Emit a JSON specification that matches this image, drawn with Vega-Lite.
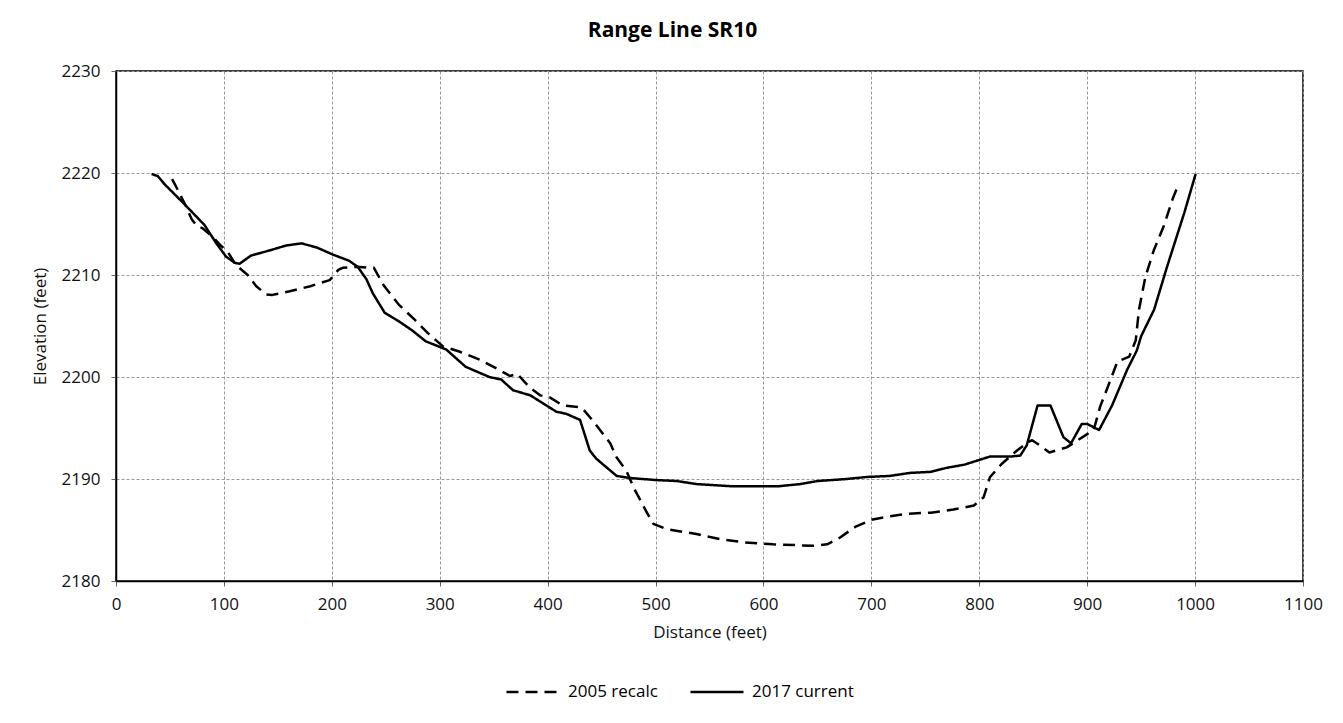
{
  "$schema": "https://vega.github.io/schema/vega-lite/v6.json",
  "width": 1187,
  "height": 510,
  "autosize": {"type": "none"},
  "padding": {"left": 116, "top": 71, "right": 40, "bottom": 142},
  "background": "white",
  "title": {"text": "Range Line SR10", "font": "Open Sans", "fontSize": 21, "fontWeight": "bold", "color": "#000", "offset": 21, "dx": -37, "anchor": "middle"},
  "datasets": {
    "pts": [
      {"series": "2005 recalc", "distance": 52, "elevation": 2219.4},
      {"series": "2005 recalc", "distance": 58, "elevation": 2218.2},
      {"series": "2005 recalc", "distance": 65, "elevation": 2216.7},
      {"series": "2005 recalc", "distance": 70, "elevation": 2215.5},
      {"series": "2005 recalc", "distance": 75, "elevation": 2214.8},
      {"series": "2005 recalc", "distance": 80, "elevation": 2214.6},
      {"series": "2005 recalc", "distance": 90, "elevation": 2213.7},
      {"series": "2005 recalc", "distance": 96, "elevation": 2213.0},
      {"series": "2005 recalc", "distance": 104, "elevation": 2212.2},
      {"series": "2005 recalc", "distance": 111, "elevation": 2211.0},
      {"series": "2005 recalc", "distance": 122, "elevation": 2210.0},
      {"series": "2005 recalc", "distance": 130, "elevation": 2208.9},
      {"series": "2005 recalc", "distance": 139, "elevation": 2208.1},
      {"series": "2005 recalc", "distance": 145, "elevation": 2208.05},
      {"series": "2005 recalc", "distance": 161, "elevation": 2208.4},
      {"series": "2005 recalc", "distance": 180, "elevation": 2208.9},
      {"series": "2005 recalc", "distance": 198, "elevation": 2209.5},
      {"series": "2005 recalc", "distance": 206, "elevation": 2210.5},
      {"series": "2005 recalc", "distance": 210, "elevation": 2210.7},
      {"series": "2005 recalc", "distance": 223, "elevation": 2210.8},
      {"series": "2005 recalc", "distance": 239, "elevation": 2210.7},
      {"series": "2005 recalc", "distance": 248, "elevation": 2209.0},
      {"series": "2005 recalc", "distance": 262, "elevation": 2207.1},
      {"series": "2005 recalc", "distance": 277, "elevation": 2205.6},
      {"series": "2005 recalc", "distance": 289, "elevation": 2204.3},
      {"series": "2005 recalc", "distance": 303, "elevation": 2203.0},
      {"series": "2005 recalc", "distance": 318, "elevation": 2202.5},
      {"series": "2005 recalc", "distance": 337, "elevation": 2201.7},
      {"series": "2005 recalc", "distance": 355, "elevation": 2200.7},
      {"series": "2005 recalc", "distance": 365, "elevation": 2200.1},
      {"series": "2005 recalc", "distance": 372, "elevation": 2200.3},
      {"series": "2005 recalc", "distance": 383, "elevation": 2199.0},
      {"series": "2005 recalc", "distance": 393, "elevation": 2198.2},
      {"series": "2005 recalc", "distance": 402, "elevation": 2198.0},
      {"series": "2005 recalc", "distance": 414, "elevation": 2197.2},
      {"series": "2005 recalc", "distance": 430, "elevation": 2197.05},
      {"series": "2005 recalc", "distance": 434, "elevation": 2196.7},
      {"series": "2005 recalc", "distance": 442, "elevation": 2195.7},
      {"series": "2005 recalc", "distance": 458, "elevation": 2193.5},
      {"series": "2005 recalc", "distance": 464, "elevation": 2192.1},
      {"series": "2005 recalc", "distance": 473, "elevation": 2190.8},
      {"series": "2005 recalc", "distance": 480, "elevation": 2189.1},
      {"series": "2005 recalc", "distance": 492, "elevation": 2186.7},
      {"series": "2005 recalc", "distance": 498, "elevation": 2185.6},
      {"series": "2005 recalc", "distance": 510, "elevation": 2185.1},
      {"series": "2005 recalc", "distance": 538, "elevation": 2184.6},
      {"series": "2005 recalc", "distance": 560, "elevation": 2184.1},
      {"series": "2005 recalc", "distance": 581, "elevation": 2183.8},
      {"series": "2005 recalc", "distance": 609, "elevation": 2183.6},
      {"series": "2005 recalc", "distance": 646, "elevation": 2183.45},
      {"series": "2005 recalc", "distance": 659, "elevation": 2183.6},
      {"series": "2005 recalc", "distance": 670, "elevation": 2184.2},
      {"series": "2005 recalc", "distance": 685, "elevation": 2185.3},
      {"series": "2005 recalc", "distance": 700, "elevation": 2186.0},
      {"series": "2005 recalc", "distance": 715, "elevation": 2186.3},
      {"series": "2005 recalc", "distance": 734, "elevation": 2186.6},
      {"series": "2005 recalc", "distance": 755, "elevation": 2186.7},
      {"series": "2005 recalc", "distance": 776, "elevation": 2187.0},
      {"series": "2005 recalc", "distance": 795, "elevation": 2187.4},
      {"series": "2005 recalc", "distance": 804, "elevation": 2188.2},
      {"series": "2005 recalc", "distance": 810, "elevation": 2190.2},
      {"series": "2005 recalc", "distance": 821, "elevation": 2191.5},
      {"series": "2005 recalc", "distance": 835, "elevation": 2192.8},
      {"series": "2005 recalc", "distance": 845, "elevation": 2193.6},
      {"series": "2005 recalc", "distance": 849, "elevation": 2193.8},
      {"series": "2005 recalc", "distance": 856, "elevation": 2193.3},
      {"series": "2005 recalc", "distance": 865, "elevation": 2192.6},
      {"series": "2005 recalc", "distance": 881, "elevation": 2193.1},
      {"series": "2005 recalc", "distance": 900, "elevation": 2194.4},
      {"series": "2005 recalc", "distance": 906, "elevation": 2194.8},
      {"series": "2005 recalc", "distance": 912, "elevation": 2197.1},
      {"series": "2005 recalc", "distance": 919, "elevation": 2199.0},
      {"series": "2005 recalc", "distance": 928, "elevation": 2201.5},
      {"series": "2005 recalc", "distance": 939, "elevation": 2202.0},
      {"series": "2005 recalc", "distance": 945, "elevation": 2203.6},
      {"series": "2005 recalc", "distance": 948, "elevation": 2206.6},
      {"series": "2005 recalc", "distance": 954, "elevation": 2209.85},
      {"series": "2005 recalc", "distance": 962, "elevation": 2212.5},
      {"series": "2005 recalc", "distance": 971, "elevation": 2214.8},
      {"series": "2005 recalc", "distance": 979, "elevation": 2217.4},
      {"series": "2005 recalc", "distance": 985, "elevation": 2219.0},
      {"series": "2017 current", "distance": 33, "elevation": 2219.9},
      {"series": "2017 current", "distance": 38.7, "elevation": 2219.7},
      {"series": "2017 current", "distance": 45, "elevation": 2218.9},
      {"series": "2017 current", "distance": 62, "elevation": 2217.1},
      {"series": "2017 current", "distance": 82, "elevation": 2214.9},
      {"series": "2017 current", "distance": 93, "elevation": 2213.1},
      {"series": "2017 current", "distance": 102, "elevation": 2211.8},
      {"series": "2017 current", "distance": 110, "elevation": 2211.2},
      {"series": "2017 current", "distance": 114.5, "elevation": 2211.1},
      {"series": "2017 current", "distance": 125, "elevation": 2211.9},
      {"series": "2017 current", "distance": 142, "elevation": 2212.4},
      {"series": "2017 current", "distance": 158, "elevation": 2212.9},
      {"series": "2017 current", "distance": 172, "elevation": 2213.1},
      {"series": "2017 current", "distance": 186, "elevation": 2212.7},
      {"series": "2017 current", "distance": 201, "elevation": 2212.0},
      {"series": "2017 current", "distance": 216, "elevation": 2211.4},
      {"series": "2017 current", "distance": 224, "elevation": 2210.8},
      {"series": "2017 current", "distance": 232, "elevation": 2209.6},
      {"series": "2017 current", "distance": 238, "elevation": 2208.2},
      {"series": "2017 current", "distance": 249, "elevation": 2206.3},
      {"series": "2017 current", "distance": 263, "elevation": 2205.4},
      {"series": "2017 current", "distance": 274, "elevation": 2204.6},
      {"series": "2017 current", "distance": 287, "elevation": 2203.5},
      {"series": "2017 current", "distance": 306, "elevation": 2202.7},
      {"series": "2017 current", "distance": 324, "elevation": 2201.0},
      {"series": "2017 current", "distance": 346, "elevation": 2200.0},
      {"series": "2017 current", "distance": 357, "elevation": 2199.75},
      {"series": "2017 current", "distance": 368, "elevation": 2198.7},
      {"series": "2017 current", "distance": 384, "elevation": 2198.2},
      {"series": "2017 current", "distance": 396, "elevation": 2197.4},
      {"series": "2017 current", "distance": 408, "elevation": 2196.6},
      {"series": "2017 current", "distance": 417, "elevation": 2196.4},
      {"series": "2017 current", "distance": 430, "elevation": 2195.8},
      {"series": "2017 current", "distance": 433, "elevation": 2194.8},
      {"series": "2017 current", "distance": 439, "elevation": 2192.8},
      {"series": "2017 current", "distance": 445, "elevation": 2192.0},
      {"series": "2017 current", "distance": 455, "elevation": 2191.1},
      {"series": "2017 current", "distance": 464, "elevation": 2190.3},
      {"series": "2017 current", "distance": 476, "elevation": 2190.1},
      {"series": "2017 current", "distance": 500, "elevation": 2189.9},
      {"series": "2017 current", "distance": 520, "elevation": 2189.8},
      {"series": "2017 current", "distance": 538, "elevation": 2189.5},
      {"series": "2017 current", "distance": 569, "elevation": 2189.3},
      {"series": "2017 current", "distance": 615, "elevation": 2189.3},
      {"series": "2017 current", "distance": 634, "elevation": 2189.5},
      {"series": "2017 current", "distance": 650, "elevation": 2189.8},
      {"series": "2017 current", "distance": 677, "elevation": 2190.0},
      {"series": "2017 current", "distance": 696, "elevation": 2190.2},
      {"series": "2017 current", "distance": 717, "elevation": 2190.3},
      {"series": "2017 current", "distance": 736, "elevation": 2190.6},
      {"series": "2017 current", "distance": 755, "elevation": 2190.7},
      {"series": "2017 current", "distance": 770, "elevation": 2191.1},
      {"series": "2017 current", "distance": 786, "elevation": 2191.4},
      {"series": "2017 current", "distance": 801, "elevation": 2191.9},
      {"series": "2017 current", "distance": 810, "elevation": 2192.2},
      {"series": "2017 current", "distance": 829, "elevation": 2192.2},
      {"series": "2017 current", "distance": 838, "elevation": 2192.3},
      {"series": "2017 current", "distance": 844, "elevation": 2193.3},
      {"series": "2017 current", "distance": 854, "elevation": 2197.2},
      {"series": "2017 current", "distance": 866, "elevation": 2197.2},
      {"series": "2017 current", "distance": 878, "elevation": 2194.1},
      {"series": "2017 current", "distance": 885, "elevation": 2193.5},
      {"series": "2017 current", "distance": 895, "elevation": 2195.4},
      {"series": "2017 current", "distance": 900, "elevation": 2195.4},
      {"series": "2017 current", "distance": 911, "elevation": 2194.8},
      {"series": "2017 current", "distance": 923, "elevation": 2197.2},
      {"series": "2017 current", "distance": 937, "elevation": 2200.7},
      {"series": "2017 current", "distance": 946, "elevation": 2202.6},
      {"series": "2017 current", "distance": 950, "elevation": 2204.0},
      {"series": "2017 current", "distance": 962, "elevation": 2206.6},
      {"series": "2017 current", "distance": 974, "elevation": 2210.8},
      {"series": "2017 current", "distance": 990, "elevation": 2216.1},
      {"series": "2017 current", "distance": 1000.5, "elevation": 2219.9}
    ]
  },
  "data": {"name": "pts"},
  "mark": {"type": "line", "strokeWidth": 2.5, "color": "black", "strokeCap": "butt", "strokeJoin": "round"},
  "encoding": {
    "x": {
      "field": "distance", "type": "quantitative",
      "scale": {"domain": [0, 1100], "nice": false, "zero": false},
      "axis": {"values": [0, 100, 200, 300, 400, 500, 600, 700, 800, 900, 1000, 1100], "format": "d", "title": "Distance (feet)", "labelPadding": 10, "titlePadding": 12, "labelFlush": false}
    },
    "y": {
      "field": "elevation", "type": "quantitative",
      "scale": {"domain": [2180, 2230], "nice": false, "zero": false},
      "axis": {"values": [2180, 2190, 2200, 2210, 2220, 2230], "title": "Elevation (feet)", "labelPadding": 11, "titlePadding": 12, "format": "d"}
    },
    "strokeDash": {
      "field": "series", "type": "nominal",
      "scale": {"domain": ["2005 recalc", "2017 current"], "range": [[12, 7], [1, 0]]},
      "legend": {
        "orient": "none", "legendX": 389, "legendY": 593, "direction": "horizontal", "title": null,
        "symbolType": "stroke", "symbolSize": 2809, "symbolStrokeWidth": 2.5, "symbolStrokeColor": "black",
        "labelFont": "Open Sans", "labelFontSize": 17, "labelColor": "#000", "columnPadding": 27, "labelOffset": 7
      }
    }
  },
  "config": {
    "view": {"stroke": "black", "strokeWidth": 1.5},
    "axis": {
      "labelFont": "Open Sans", "labelFontSize": 17, "labelColor": "#111",
      "titleFont": "Open Sans", "titleFontSize": 17, "titleFontWeight": "normal", "titleColor": "#111",
      "gridColor": "#999", "gridDash": [3, 2], "gridWidth": 1,
      "tickColor": "#666", "tickSize": 5, "domainColor": "#000", "domainWidth": 1.5
    }
  }
}
